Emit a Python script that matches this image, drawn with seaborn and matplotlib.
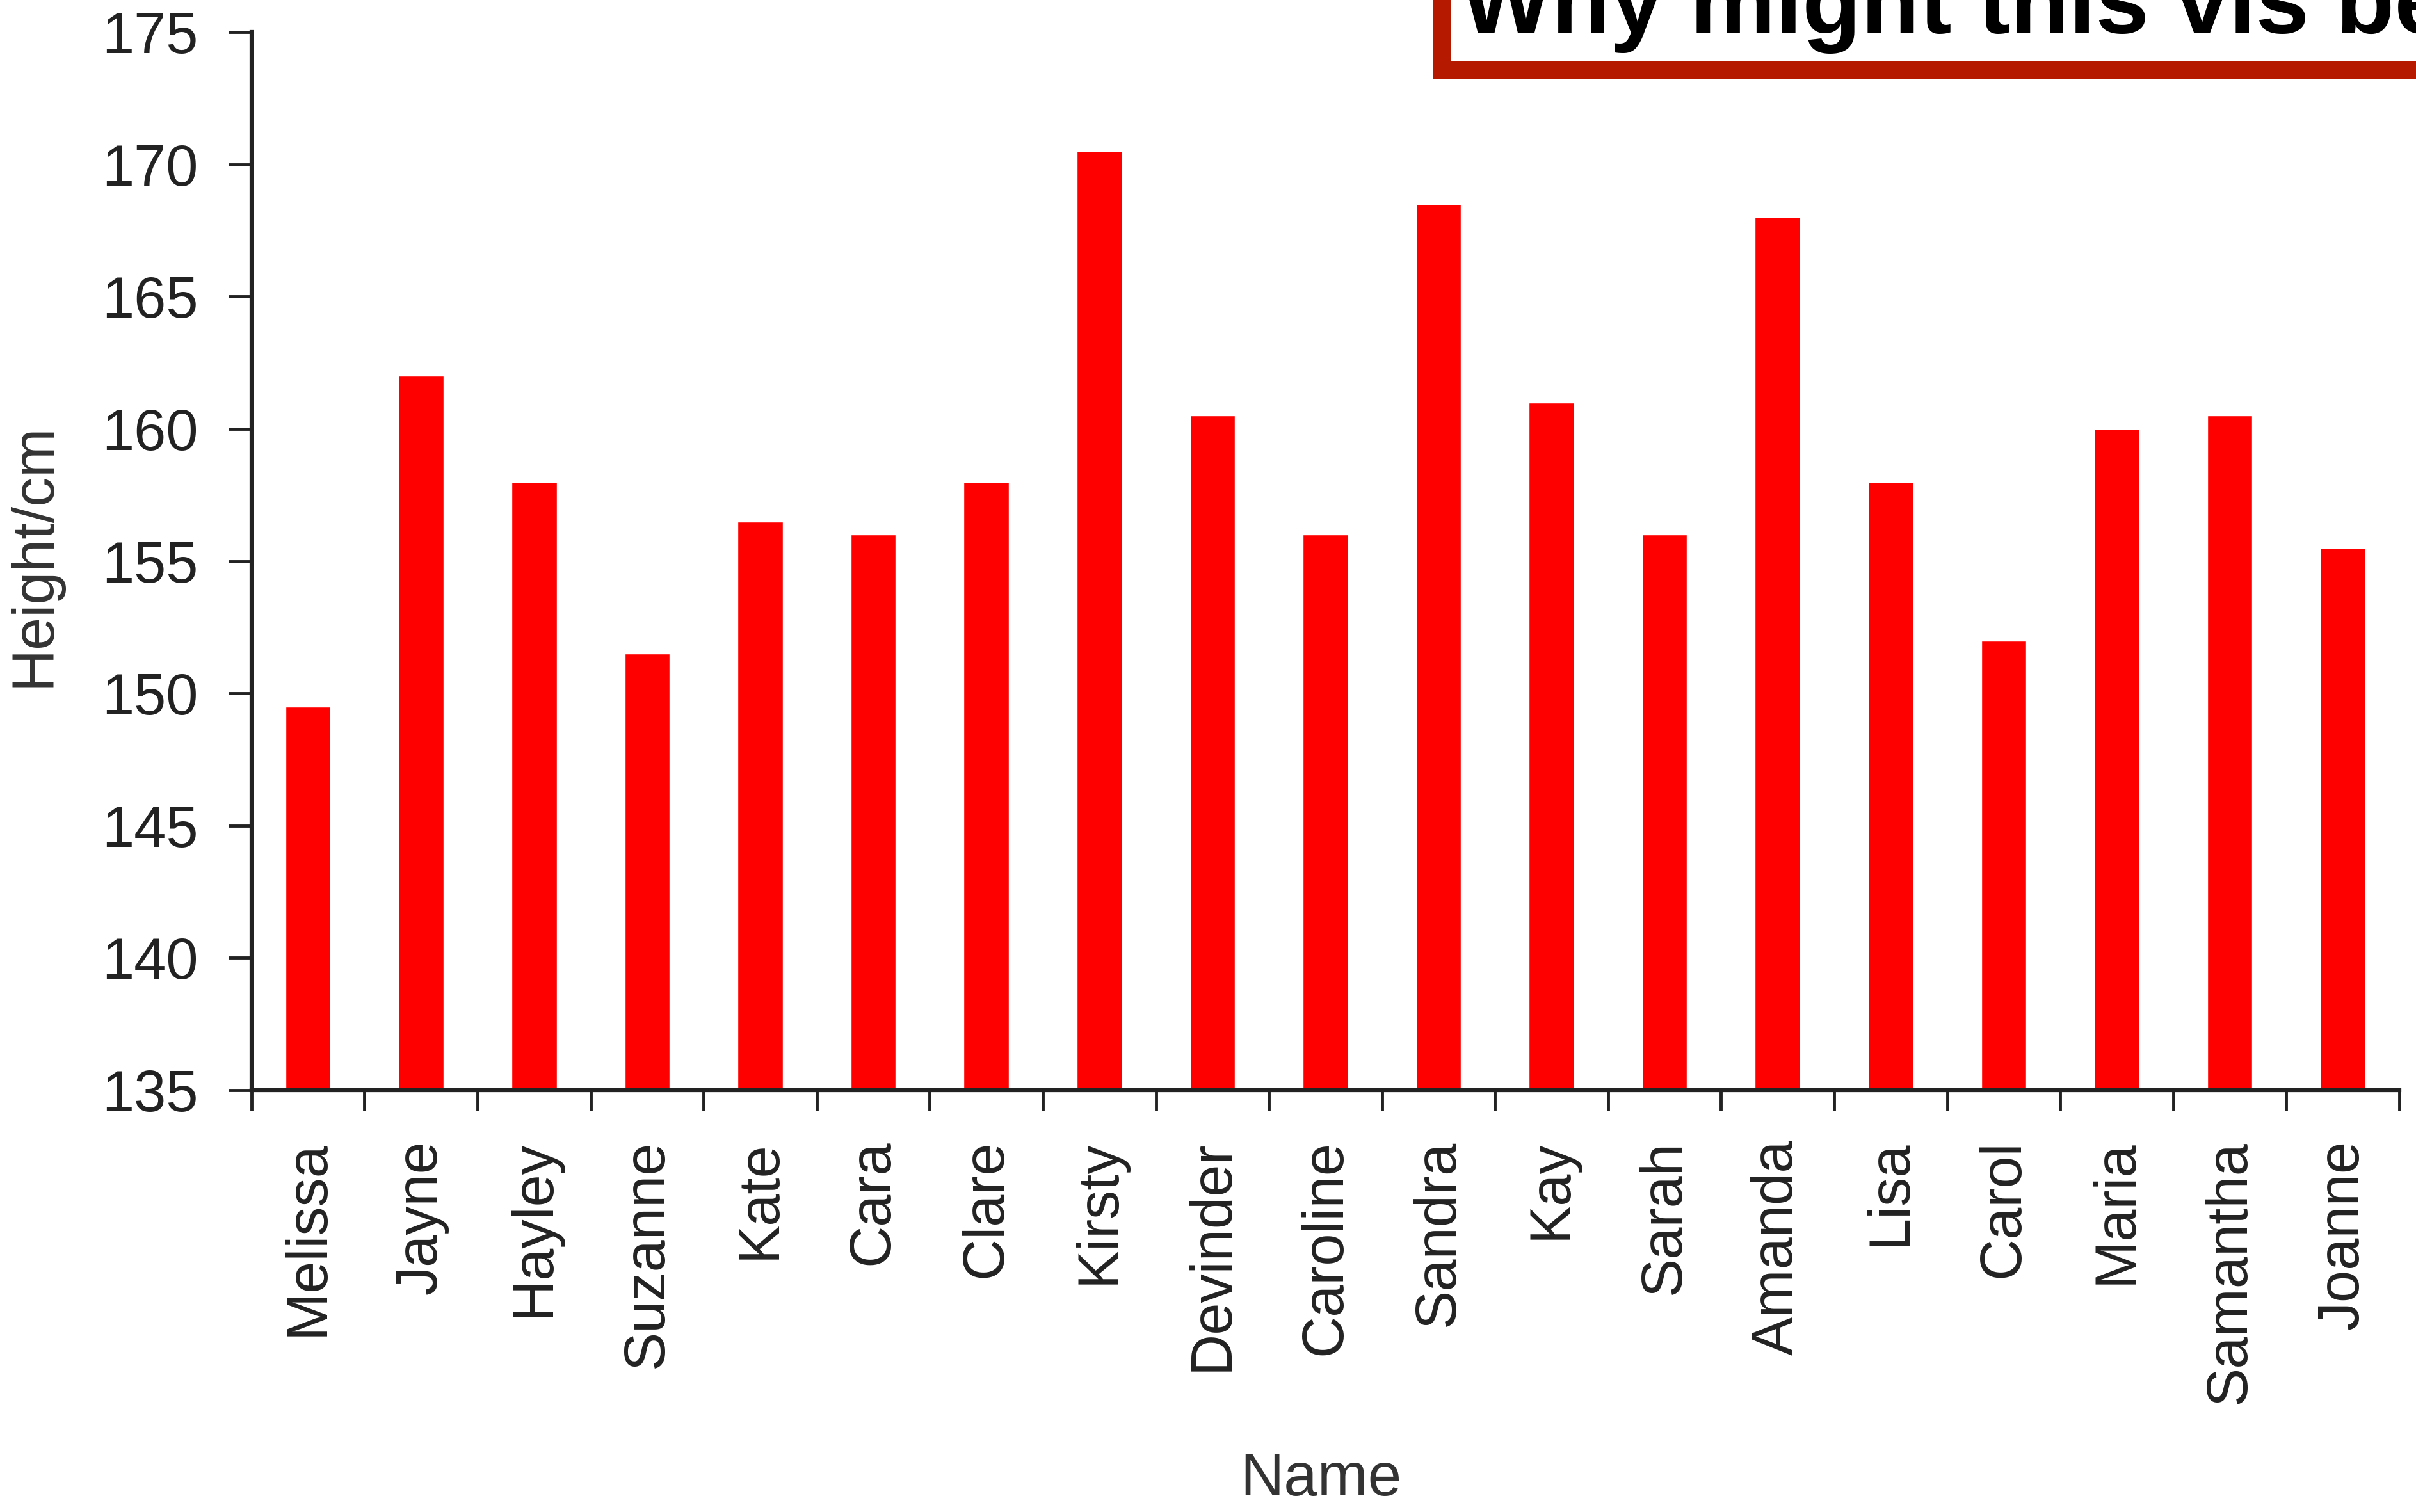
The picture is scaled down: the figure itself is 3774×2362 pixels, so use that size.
import matplotlib
matplotlib.use('Agg')
import matplotlib.pyplot as plt
import seaborn as sns
from matplotlib.patches import Rectangle
from matplotlib.ticker import FixedLocator

names = ['Melissa', 'Jayne', 'Hayley', 'Suzanne', 'Kate', 'Cara', 'Clare', 'Kirsty',
         'Devinder', 'Caroline', 'Sandra', 'Kay', 'Sarah', 'Amanda', 'Lisa', 'Carol',
         'Maria', 'Samantha', 'Joanne']
heights = [149.5, 162, 158, 151.5, 156.5, 156, 158, 170.5,
           160.5, 156, 168.5, 161, 156, 168, 158, 152,
           160, 160.5, 155.5]
y_ticks = [135, 140, 145, 150, 155, 160, 165, 170, 175]

sns.set_style('white')
plt.rcParams['font.family'] = ['Liberation Sans', 'DejaVu Sans']

fig = plt.figure(figsize=(37.74, 23.62), dpi=100)
ax = fig.add_axes([0.1041, 0.279, 0.8890, 0.6998])

sns.barplot(x=names, y=heights, color='#ff0000', saturation=1, width=0.4, ax=ax)

ax.set_xlim(-0.5, len(names) - 0.5)
ax.set_ylim(135, 175)
ax.set_yticks(y_ticks)

# ticks sit between categories, labels at centres
ax.xaxis.set_minor_locator(FixedLocator([i - 0.5 for i in range(len(names) + 1)]))
ax.tick_params(axis='x', which='major', bottom=True, length=0, pad=56, labelsize=65,
               labelcolor='#222222', rotation=90)
ax.tick_params(axis='x', which='minor', bottom=True, length=23, width=3.5,
               color='#222222', direction='out')
ax.tick_params(axis='y', left=True, length=26, width=3.5, color='#222222', pad=34,
               labelsize=65, labelcolor='#222222', direction='out')

for s in ['top', 'right']:
    ax.spines[s].set_visible(False)
for s in ['left', 'bottom']:
    ax.spines[s].set_linewidth(4.5)
    ax.spines[s].set_color('#222222')

ax.set_xlabel('Name', fontsize=68, color='#333333', va='center')
ax.set_ylabel('Height/cm', fontsize=66, color='#333333', va='center')
ax.xaxis.set_label_coords(0.498, -0.368)
ax.yaxis.set_label_coords(-0.1013, 0.506)

# cut-off question box at the top right
box = Rectangle((2252 / 3774, (2362 - 109) / 2362), 0.5, 0.2, transform=fig.transFigure,
                facecolor='white', edgecolor='#b51a00', linewidth=19.5, zorder=10,
                clip_on=False)
fig.patches.append(box)
fig.text(2282 / 3774, (2362 - 52) / 2362, 'Why might this vis be misleading?',
         fontsize=108, fontweight='bold', color='black', va='baseline', ha='left', zorder=11)

fig.savefig('out.png', dpi=100)
